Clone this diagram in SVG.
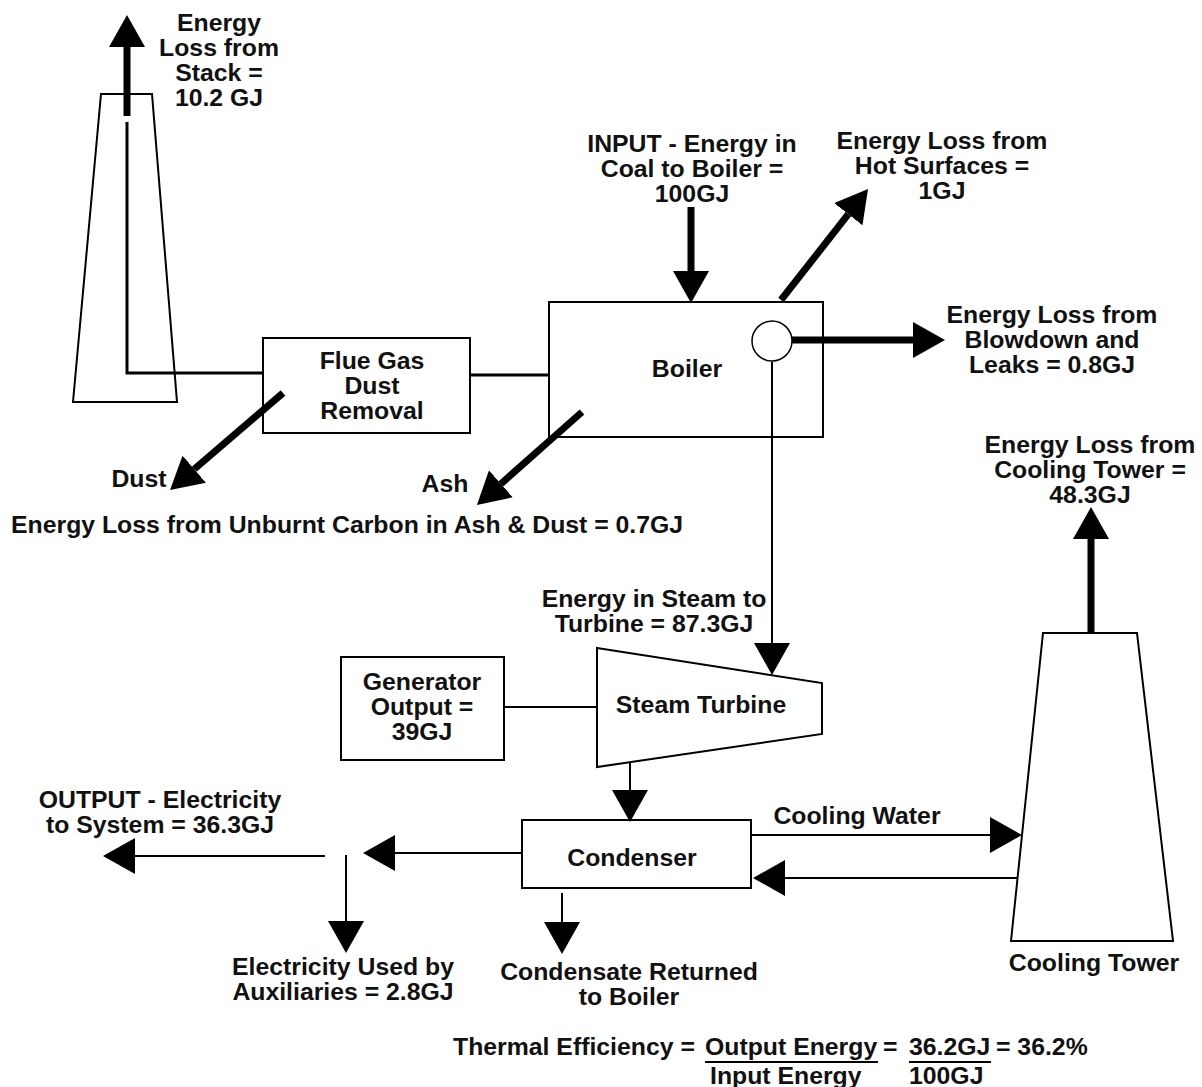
<svg xmlns="http://www.w3.org/2000/svg" width="1202" height="1087" viewBox="0 0 1202 1087">
<style>
text{font-family:"Liberation Sans",Arial,sans-serif;font-weight:bold;font-size:24.8px;fill:#111;}
.c{text-anchor:middle;}
.box{fill:#fff;stroke:#000;stroke-width:2;}
.outline{fill:none;stroke:#000;stroke-width:2;}
.thick{stroke:#000;stroke-width:7;fill:none;}
.thin{stroke:#000;stroke-width:2;fill:none;}
.med{stroke:#000;stroke-width:3;fill:none;}
.arr{marker-end:url(#ah);}
</style>
<defs>
<marker id="ah" markerUnits="userSpaceOnUse" markerWidth="32" markerHeight="36" viewBox="0 0 32 36" refX="0" refY="18" orient="auto"><path d="M0,0 L32,18 L0,36 z" fill="#000"/></marker>
</defs>
<rect width="1202" height="1087" fill="#fff"/>

<g id="stack">
<polygon class="outline" points="101,94 152,94 177,402 73,402"/>
</g>
<g id="flue-gas">
<rect class="box" x="263" y="338" width="207" height="95"/>
<text class="c" x="372" y="369">Flue Gas<tspan x="372" dy="25">Dust</tspan><tspan x="372" dy="25">Removal</tspan></text>
</g>
<g id="boiler">
<rect class="box" x="549" y="302" width="274" height="135"/>
<text class="c" x="687" y="377">Boiler</text>
<circle cx="772" cy="341" r="20" fill="#fff" stroke="#000" stroke-width="1.5"/>
</g>
<g id="turbine">
<polygon class="outline" points="597,648 822,683 822,734 597,767"/>
<text class="c" x="701" y="713">Steam Turbine</text>
</g>
<g id="generator">
<rect class="box" x="341" y="657" width="163" height="103"/>
<text class="c" x="422" y="690">Generator<tspan x="422" dy="25">Output =</tspan><tspan x="422" dy="25">39GJ</tspan></text>
</g>
<g id="condenser">
<rect class="box" x="522" y="820" width="229" height="68"/>
<text class="c" x="632" y="866">Condenser</text>
</g>
<g id="cooling-tower">
<polygon class="outline" points="1043,633 1137,633 1173,941 1011,941"/>
<text class="c" x="1094" y="971">Cooling Tower</text>
</g>

<g id="connectors">
<line class="thick arr" x1="127" y1="116" x2="127" y2="47"/>
<polyline class="med" points="127,122 127,373 264,373"/>
<line class="med" x1="470" y1="375" x2="550" y2="375"/>
<line class="thick arr" x1="691" y1="207" x2="691" y2="271"/>
<line class="thick arr" x1="781" y1="300" x2="848.3" y2="214.2"/>
<line class="thick arr" x1="792" y1="340" x2="913" y2="340"/>
<line class="thick arr" x1="283" y1="393" x2="194.3" y2="469.2"/>
<line class="thick arr" x1="582" y1="412" x2="500.9" y2="483.8"/>
<line class="thick arr" x1="1091" y1="633" x2="1091" y2="539"/>
<line class="thin arr" x1="772" y1="362" x2="772" y2="643"/>
<line class="thin" x1="504" y1="707" x2="597" y2="707"/>
<line class="thin arr" x1="630" y1="762" x2="630" y2="790"/>
<line class="thin arr" x1="522" y1="853" x2="395" y2="853"/>
<line class="thin arr" x1="325" y1="856" x2="135" y2="856"/>
<line class="thin arr" x1="346" y1="855" x2="346" y2="921"/>
<line class="thin arr" x1="562" y1="893" x2="562" y2="922"/>
<line class="thin arr" x1="751" y1="835" x2="990" y2="835"/>
<line class="thin arr" x1="1018" y1="878" x2="785" y2="878"/>
</g>

<g id="labels">
<text class="c" x="219" y="31">Energy<tspan x="219" dy="25">Loss from</tspan><tspan x="219" dy="25">Stack =</tspan><tspan x="219" dy="25">10.2 GJ</tspan></text>
<text class="c" x="692" y="152">INPUT - Energy in<tspan x="692" dy="25">Coal to Boiler =</tspan><tspan x="692" dy="25">100GJ</tspan></text>
<text class="c" x="942" y="149">Energy Loss from<tspan x="942" dy="25">Hot Surfaces =</tspan><tspan x="942" dy="25">1GJ</tspan></text>
<text class="c" x="1052" y="323">Energy Loss from<tspan x="1052" dy="25">Blowdown and</tspan><tspan x="1052" dy="25">Leaks = 0.8GJ</tspan></text>
<text class="c" x="139" y="487">Dust</text>
<text class="c" x="445" y="492">Ash</text>
<text x="11" y="533">Energy Loss from Unburnt Carbon in Ash &amp; Dust = 0.7GJ</text>
<text class="c" x="1090" y="453">Energy Loss from<tspan x="1090" dy="25">Cooling Tower =</tspan><tspan x="1090" dy="25">48.3GJ</tspan></text>
<text class="c" x="654" y="607">Energy in Steam to<tspan x="654" dy="25">Turbine = 87.3GJ</tspan></text>
<text class="c" x="160" y="808">OUTPUT - Electricity<tspan x="160" dy="25">to System = 36.3GJ</tspan></text>
<text class="c" x="857" y="824">Cooling Water</text>
<text class="c" x="343" y="975">Electricity Used by<tspan x="343" dy="25">Auxiliaries = 2.8GJ</tspan></text>
<text class="c" x="629" y="980">Condensate Returned<tspan x="629" dy="25">to Boiler</tspan></text>
</g>

<g id="efficiency">
<text x="453" y="1055">Thermal Efficiency =</text>
<text x="705" y="1055">Output Energy</text>
<text x="883" y="1055">=</text>
<text x="909" y="1055">36.2GJ</text>
<text x="996" y="1055">= 36.2%</text>
<line class="thin" x1="705" y1="1062" x2="878" y2="1062"/>
<line class="thin" x1="909" y1="1062" x2="991" y2="1062"/>
<text x="710" y="1084">Input Energy</text>
<text x="909" y="1084">100GJ</text>
</g>
</svg>
